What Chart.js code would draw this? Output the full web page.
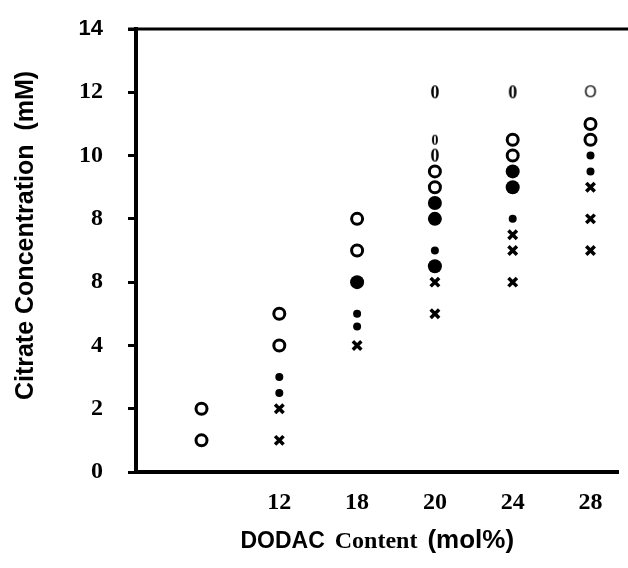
<!DOCTYPE html>
<html>
<head>
<meta charset="utf-8">
<script src="https://cdn.jsdelivr.net/npm/chart.js@4.4.1/dist/chart.umd.min.js"></script>
<style>
html, body { margin: 0; padding: 0; background: #fff; }
</style>
</head>
<body>
<canvas id="myChart" width="628" height="568"></canvas>
<script>
// x categories (the first column carries no label)
var xLabels = ["", "12", "18", "20", "24", "28"];
// y tick labels as printed, bottom to top
var yLabels = ["0", "2", "4", "8", "8", "10", "12", "14"];
var yTitle = "Citrate Concentration  (mM)";
// x title is printed in mixed type
var xTitleParts = ["DODAC", "Content", "(mol%)"];

// open circles
var openCat = [0, 0, 1, 1, 2, 2, 3, 3, 4, 4, 5, 5];
var openVal = [2, 1, 5, 4, 8, 7, 9.5, 9, 10.5, 10, 11, 10.5];
// large filled circles
var bigCat = [2, 3, 3, 3, 4, 4];
var bigVal = [6, 8.5, 8, 6.5, 9.5, 9];
// small filled dots
var dotCat = [1, 1, 2, 2, 3, 4, 5, 5];
var dotVal = [3, 2.5, 5, 4.6, 7, 8, 10, 9.5];
// crosses
var crossCat = [1, 1, 2, 3, 3, 4, 4, 4, 5, 5, 5];
var crossVal = [2, 1, 4, 6, 5, 7.5, 7, 6, 9, 8, 7];
// "0" / "O" marks near the top
var zeroCat = [3, 3, 4];
var zeroVal = [12, 10, 12];
var smallZeroCat = [3];
var smallZeroVal = [10.5];
var letterOCat = [5];
var letterOVal = [12];

function pts(cat, val) {
    return cat.map(function (c, i) { return { x: c, y: val[i] }; });
}

var sans = "'Liberation Sans', Arial, sans-serif";
var serif = "'Liberation Serif', 'Times New Roman', serif";

// small canvases used as point styles for the printed glyph marks
function glyph(txt, font, w, h) {
    var c = document.createElement("canvas");
    c.width = w; c.height = h;
    var g = c.getContext("2d");
    g.font = font;
    g.fillStyle = "#000";
    g.textAlign = "center";
    g.textBaseline = "middle";
    g.fillText(txt, w / 2, h / 2 + 1);
    return c;
}
var zeroImg = glyph("0", "bold 18px " + serif, 14, 18);
var smallZeroImg = glyph("0", "bold 14px " + serif, 12, 14);
var letterOImg = glyph("O", "16px " + sans, 16, 18);

// top frame line and the two axis titles (mixed fonts, so drawn here)
var frameAndTitles = {
    id: "frameAndTitles",
    afterDraw: function (chart) {
        var ctx = chart.ctx, a = chart.chartArea;
        ctx.save();
        ctx.strokeStyle = "#000";
        ctx.lineWidth = 3;
        ctx.beginPath();
        ctx.moveTo(a.left - 8, a.top);
        ctx.lineTo(chart.width, a.top);
        ctx.stroke();

        ctx.fillStyle = "#000";
        // y title, rotated
        ctx.save();
        ctx.font = "bold 25px " + sans;
        ctx.textAlign = "center";
        ctx.textBaseline = "alphabetic";
        ctx.translate(33, (a.top + a.bottom) / 2 - 15);
        ctx.rotate(-Math.PI / 2);
        ctx.fillText(yTitle, 0, 0);
        ctx.restore();

        // x title
        var fonts = ["bold 23px " + sans, "bold 24px " + serif, "bold 26px " + sans];
        var gap = 10, widths = [], total = 0;
        xTitleParts.forEach(function (p, i) {
            ctx.font = fonts[i];
            widths.push(ctx.measureText(p).width);
            total += widths[i];
        });
        total += gap * (xTitleParts.length - 1);
        var x = (a.left + a.right) / 2 - total / 2;
        ctx.textAlign = "left";
        ctx.textBaseline = "alphabetic";
        xTitleParts.forEach(function (p, i) {
            ctx.font = fonts[i];
            ctx.fillText(p, x, 548);
            x += widths[i] + gap;
        });
        ctx.restore();
    }
};

var ctx = document.getElementById("myChart");
var myChart = new Chart(ctx, {
    type: "scatter",
    data: {
        datasets: [
            { label: "open", data: pts(openCat, openVal), pointStyle: "circle", pointRadius: 5.5,
              borderWidth: 3, borderColor: "#000", backgroundColor: "#fff" },
            { label: "big", data: pts(bigCat, bigVal), pointStyle: "circle", pointRadius: 7,
              borderWidth: 0, borderColor: "#000", backgroundColor: "#000" },
            { label: "dot", data: pts(dotCat, dotVal), pointStyle: "circle", pointRadius: 4,
              borderWidth: 0, borderColor: "#000", backgroundColor: "#000" },
            { label: "cross", data: pts(crossCat, crossVal), pointStyle: "crossRot", pointRadius: 6,
              borderWidth: 3.5, borderColor: "#000", backgroundColor: "#000" },
            { label: "zero", data: pts(zeroCat, zeroVal), pointStyle: zeroImg },
            { label: "smallZero", data: pts(smallZeroCat, smallZeroVal), pointStyle: smallZeroImg },
            { label: "letterO", data: pts(letterOCat, letterOVal), pointStyle: letterOImg }
        ]
    },
    options: {
        responsive: false,
        animation: false,
        devicePixelRatio: 1,
        layout: { padding: { top: 29, right: 4, left: 0, bottom: 0 } },
        plugins: { legend: { display: false }, tooltip: { enabled: false } },
        scales: {
            x: {
                type: "linear",
                min: -0.842,
                max: 5.36,
                afterBuildTicks: function (s) {
                    s.ticks = xLabels.map(function (l, i) { return { value: i }; });
                },
                afterFit: function (s) { s.height = 96; },
                grid: { display: false },
                border: { display: true, color: "#000", width: 4 },
                ticks: {
                    autoSkip: false,
                    maxRotation: 0,
                    padding: 8,
                    color: "#000",
                    font: { family: serif, size: 24, weight: "bold" },
                    callback: function (v) { return xLabels[v] !== undefined ? xLabels[v] : ""; }
                },
                title: { display: false }
            },
            y: {
                min: 0,
                max: 14,
                // fixed axis width; drop the label padding Chart.js adds above and below
                afterFit: function (s) { s.width = 136; s.paddingTop = 0; s.paddingBottom = 0; },
                grid: { drawOnChartArea: false, drawTicks: true, tickLength: 8, tickWidth: 3, tickColor: "#000" },
                border: { display: true, color: "#000", width: 4 },
                ticks: {
                    stepSize: 2,
                    padding: 25,
                    color: "#000",
                    font: function (c) {
                        if (c.tick && c.tick.value === 14) return { family: sans, size: 22, weight: "bold" };
                        return { family: serif, size: 24, weight: "bold" };
                    },
                    callback: function (v, i) { return yLabels[i]; }
                },
                title: { display: false }
            }
        }
    },
    plugins: [frameAndTitles]
});
</script>
</body>
</html>
